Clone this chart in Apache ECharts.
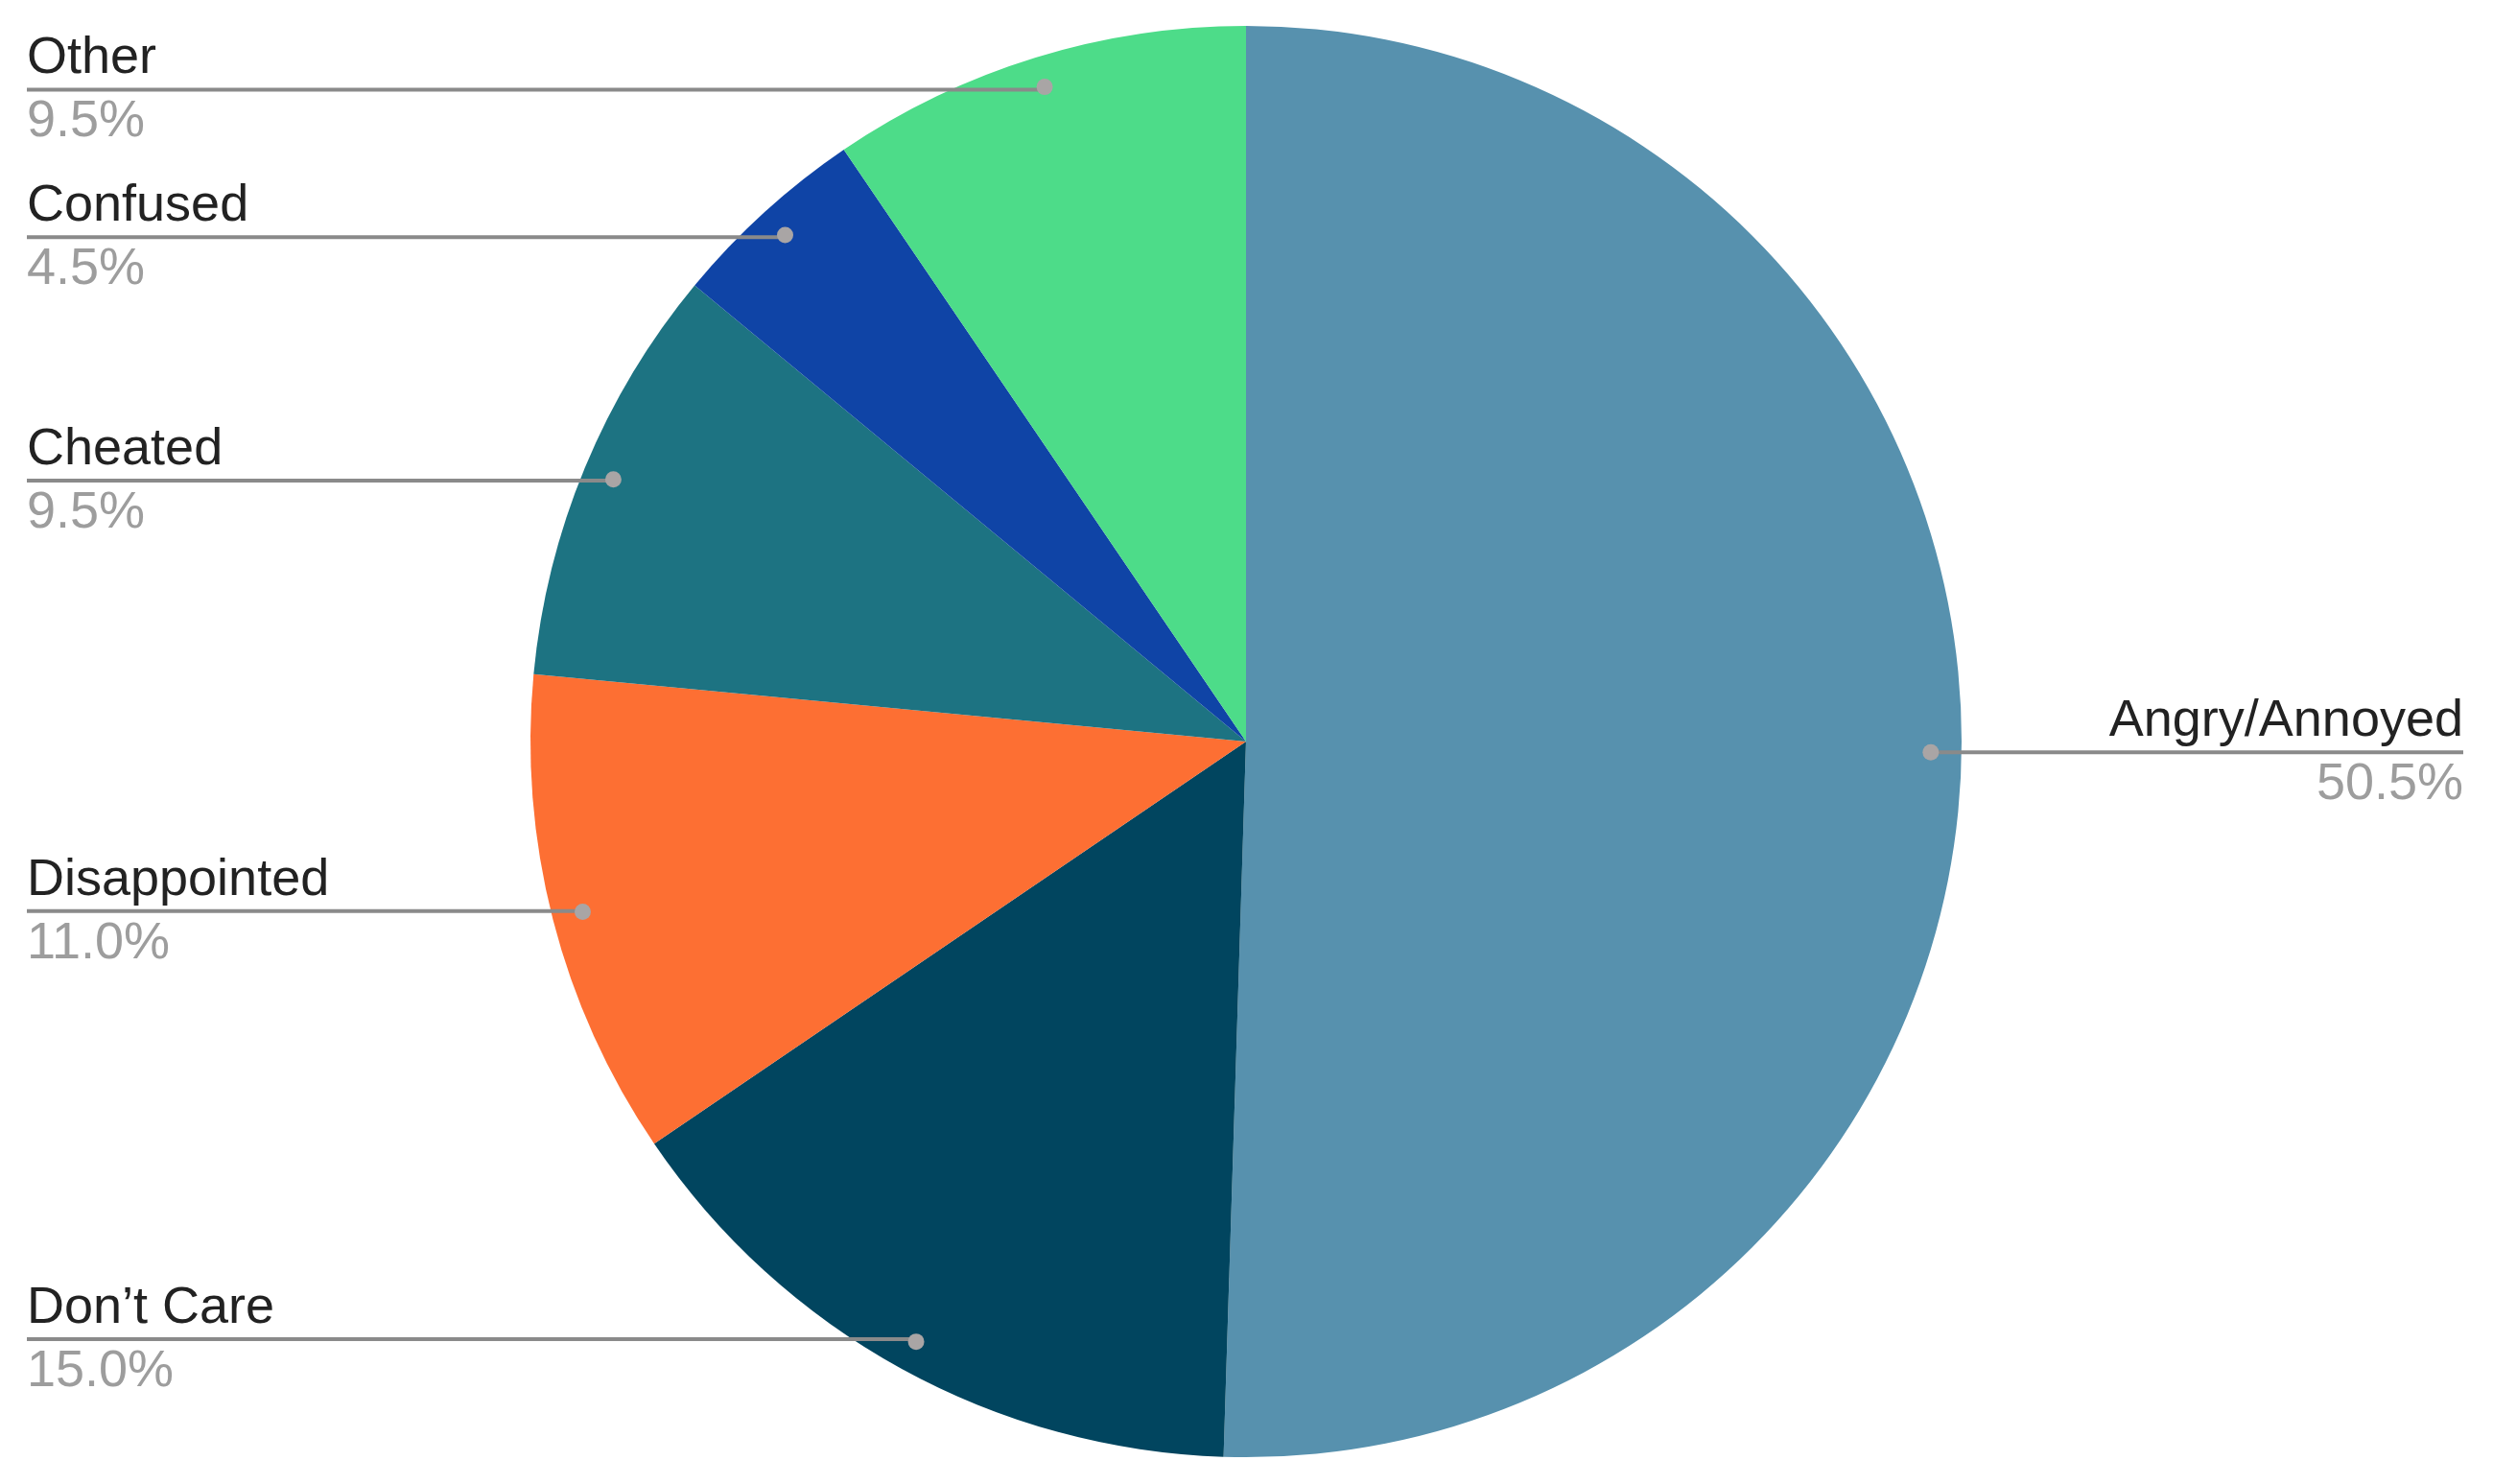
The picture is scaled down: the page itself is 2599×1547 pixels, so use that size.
<!DOCTYPE html>
<html>
<head>
<meta charset="utf-8">
<script src="https://cdn.jsdelivr.net/npm/echarts@6/dist/echarts.min.js"></script>
<style>
html,body{margin:0;padding:0;background:#fff;}
#chart{width:2599px;height:1547px;}
</style>
</head>
<body>
<div id="chart"></div>
<script>
const categories = ['Angry/Annoyed', 'Don\u2019t Care', 'Disappointed', 'Cheated', 'Confused', 'Other'];
const values = [50.5, 15.0, 11.0, 9.5, 4.5, 9.5];
const colors = ['#5791ae', '#01455f', '#fd6f33', '#1d7382', '#0f44a6', '#4ddc89'];

const CX = 1299, CY = 773, R = 746;
const LEFT_X = 28, RIGHT_X = 2568;
const DOT_FRAC = 0.953;

const data = categories.map((n, i) => ({ name: n, value: values[i], itemStyle: { color: colors[i] } }));
const labelData = categories.map((n, i) => ({ name: n, value: values[i] }));
const dotData = categories.map((n, i) => ({ name: n, value: values[i] }));

const chart = echarts.init(document.getElementById('chart'), null, { renderer: 'canvas' });
chart.setOption({
  backgroundColor: '#ffffff',
  animation: false,
  series: [
    {
      type: 'pie',
      center: [CX, CY],
      radius: [0, R],
      startAngle: 90,
      clockwise: true,
      silent: true,
      z: 2,
      data: data,
      itemStyle: { borderWidth: 0 },
      label: { show: false },
      labelLine: { show: false }
    },
    {
      type: 'pie',
      center: [CX, CY],
      radius: [0, R],
      startAngle: 90,
      clockwise: true,
      avoidLabelOverlap: false,
      silent: true,
      z: 4,
      data: labelData,
      itemStyle: { color: 'rgba(0,0,0,0)', borderWidth: 0 },
      emphasis: { disabled: true },
      label: {
        show: true,
        position: 'outside',
        formatter: p => '{n|' + p.name + '}\n{p|' + p.value.toFixed(1) + '%}',
        rich: {
          n: { fontFamily: 'Liberation Sans, Arial, sans-serif', fontSize: 54, color: '#222222', lineHeight: 66 },
          p: { fontFamily: 'Liberation Sans, Arial, sans-serif', fontSize: 54, color: '#9d9d9d', lineHeight: 66 }
        }
      },
      labelLine: { show: true, length: 20, length2: 20, smooth: false, lineStyle: { color: '#8a8a8a', width: 4 } },
      labelLayout: function (params) {
        const pts = params.labelLinePoints;
        if (!pts) return {};
        const dx = (pts[0][0] - CX) / R;
        const dy = (pts[0][1] - CY) / R;
        const px = CX + dx * R * DOT_FRAC;
        const py = CY + dy * R * DOT_FRAC;
        const isRight = dx > 0;
        const tx = isRight ? RIGHT_X : LEFT_X;
        return {
          x: tx,
          y: py + 1,
          align: isRight ? 'right' : 'left',
          verticalAlign: 'middle',
          labelLinePoints: [[px, py], [tx, py]]
        };
      }
    },
    {
      type: 'pie',
      center: [CX, CY],
      radius: [R * (2 * DOT_FRAC - 1), R],
      startAngle: 90,
      clockwise: true,
      silent: true,
      z: 6,
      data: dotData,
      itemStyle: { color: 'rgba(0,0,0,0)', borderWidth: 0 },
      emphasis: { disabled: true },
      label: {
        show: true,
        position: 'inside',
        formatter: ' ',
        width: 17,
        height: 17,
        padding: 0,
        borderRadius: 8.5,
        backgroundColor: '#a9a5a5',
        fontSize: 10
      },
      labelLine: { show: false }
    }
  ]
});
</script>
</body>
</html>
